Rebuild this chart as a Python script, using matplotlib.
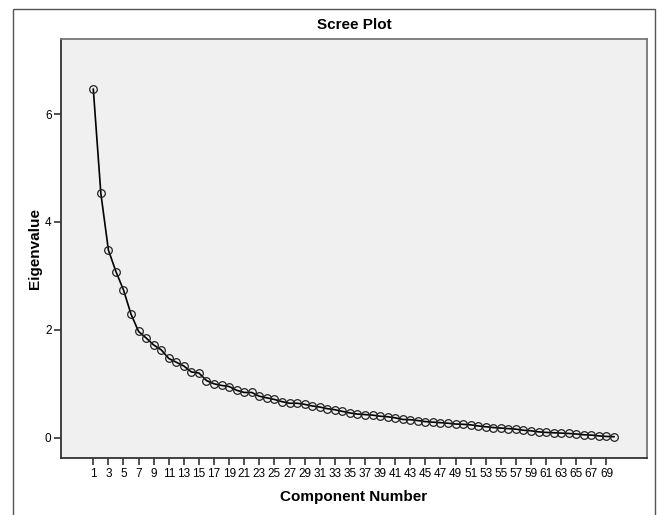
import matplotlib
matplotlib.use("Agg")
import matplotlib.pyplot as plt
from matplotlib.patches import Rectangle

# eigenvalues, components 1..70
components = list(range(1, 71))
eigenvalues = [
    6.46, 4.53, 3.48, 3.08, 2.74, 2.29, 1.97, 1.85, 1.72, 1.63,
    1.47, 1.40, 1.33, 1.22, 1.20, 1.06, 1.00, 0.97, 0.95, 0.88,
    0.84, 0.84, 0.77, 0.74, 0.71, 0.67, 0.64, 0.64, 0.62, 0.59,
    0.57, 0.54, 0.52, 0.49, 0.46, 0.44, 0.43, 0.42, 0.40, 0.39,
    0.37, 0.34, 0.335, 0.32, 0.30, 0.29, 0.28, 0.27, 0.255, 0.25,
    0.24, 0.22, 0.205, 0.19, 0.18, 0.17, 0.16, 0.14, 0.13, 0.11,
    0.10, 0.093, 0.087, 0.08, 0.07, 0.056, 0.05, 0.035, 0.025, 0.02,
]
x_ticks = list(range(1, 70, 2))
y_ticks = [0, 2, 4, 6]

plt.rcParams['font.family'] = ['Liberation Sans', 'DejaVu Sans']

W, H = 659, 515
fig = plt.figure(figsize=(W / 100, H / 100), dpi=100)

# outer frame of the SPSS output
fig.patches.append(Rectangle((13 / W, -0.05), (655 - 13) / W, 1 - 9 / H + 0.05,
                             transform=fig.transFigure, fill=False,
                             edgecolor='#555555', linewidth=1.0))

left, right, top, bottom = 61.3, 646.7, 39.0, 458.3
ax = fig.add_axes([left / W, 1 - bottom / H, (right - left) / W, (bottom - top) / H])
ax.set_facecolor('#f0f0f0')

ax.plot(components, eigenvalues, color='black', linewidth=1.2,
        marker='o', markersize=5.5, markerfacecolor='none',
        markeredgecolor='#222222', markeredgewidth=0.9)

ax.set_xlim(-3.24, 74.33)
ax.set_ylim(-0.38, 7.39)
ax.set_xticks(x_ticks)
ax.set_xticklabels([str(t) for t in x_ticks], fontsize=8.5)
ax.set_yticks(y_ticks)
ax.set_yticklabels([str(t) for t in y_ticks], fontsize=8.5)
ax.tick_params(direction='out', length=5, width=1.2, color='#333333', pad=2)

for side in ['left', 'bottom']:
    ax.spines[side].set_color('#333333')
    ax.spines[side].set_linewidth(1.3)
for side in ['top', 'right']:
    ax.spines[side].set_color('#777777')
    ax.spines[side].set_linewidth(1.3)

ax.set_title('Scree Plot', fontsize=11, fontweight='bold', pad=7)
ax.set_xlabel('Component Number', fontsize=11, fontweight='bold', labelpad=7)
ax.set_ylabel('Eigenvalue', fontsize=11, fontweight='bold', labelpad=2)

fig.savefig('out.png', dpi=100)
